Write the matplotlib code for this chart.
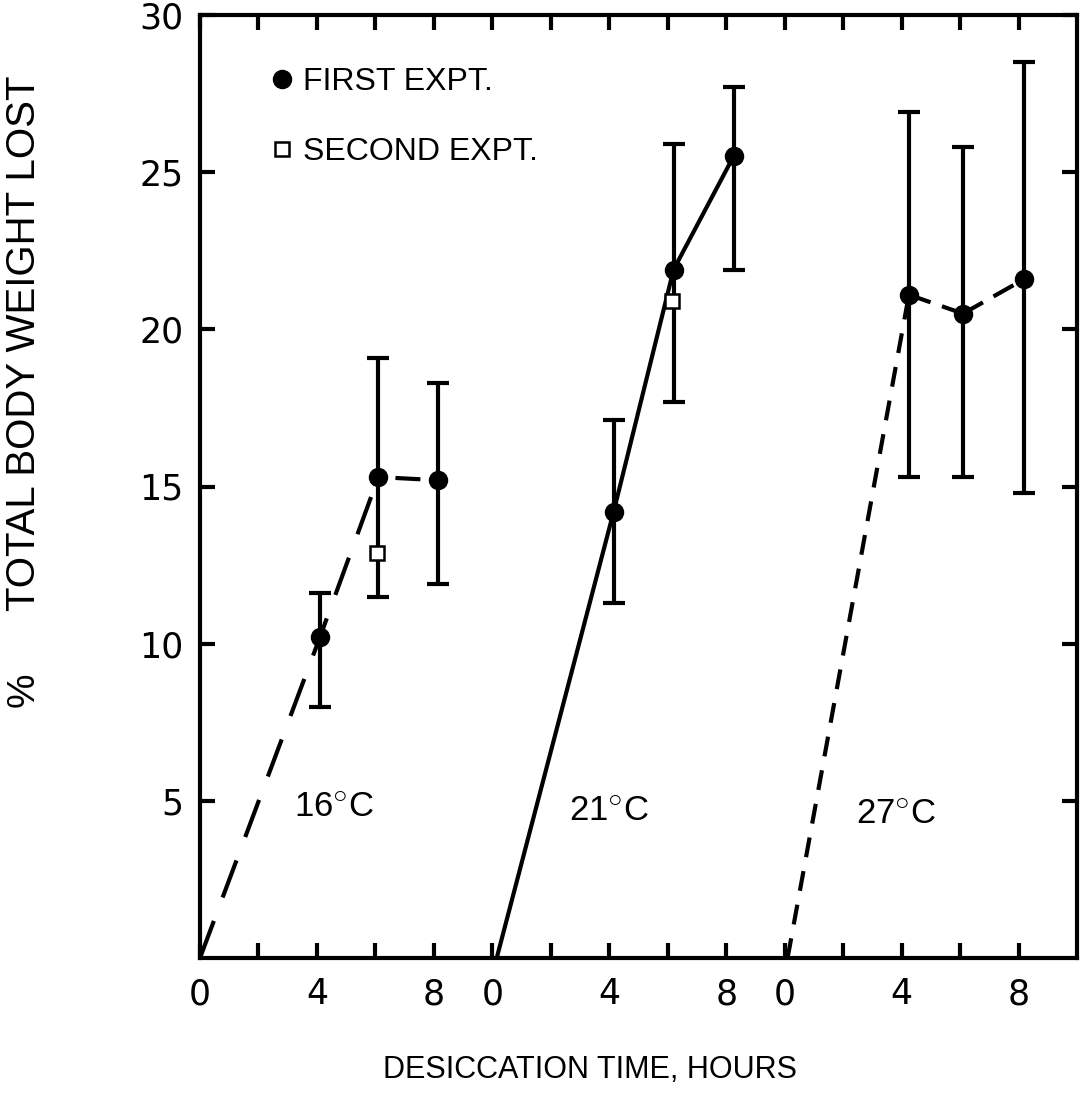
import matplotlib
matplotlib.use("Agg")
import matplotlib.pyplot as plt
from matplotlib.lines import Line2D
import numpy as np

# ---- data (hours of desiccation, % total body weight lost) ----
panel_offsets = [0, 10, 20]          # each temperature panel shares one axis
temps = [r"16$^{\bigcirc}$C", r"21$^{\bigcirc}$C", r"27$^{\bigcirc}$C"]

# 16 C
h16 = [4.1, 6.1, 8.15]
m16 = [10.2, 15.3, 15.2]
lo16 = [8.0, 11.5, 11.9]
hi16 = [11.6, 19.1, 18.3]
sec_h16 = [6.05]
sec_m16 = [12.9]
start16 = 0.0

# 21 C
h21 = [4.15, 6.2, 8.25]
m21 = [14.2, 21.9, 25.5]
lo21 = [11.3, 17.7, 21.9]
hi21 = [17.1, 25.9, 27.7]
sec_h21 = [6.15]
sec_m21 = [20.9]
start21 = 0.15

# 27 C
h27 = [4.25, 6.1, 8.2]
m27 = [21.1, 20.5, 21.6]
lo27 = [15.3, 15.3, 14.8]
hi27 = [26.9, 25.8, 28.5]
start27 = 0.1

xtick_pos = list(range(0, 30, 2))
xtick_lab = ["0", "", "4", "", "8", "0", "", "4", "", "8", "0", "", "4", "", "8"]
ytick_pos = [5, 10, 15, 20, 25, 30]
ytick_lab = ["5", "10", "15", "20", "25", "30"]

FONT = ["Liberation Sans Narrow", "Liberation Sans", "DejaVu Sans"]
plt.rcParams["mathtext.fontset"] = "custom"
plt.rcParams["mathtext.rm"] = "Liberation Sans"
plt.rcParams["mathtext.it"] = "Liberation Sans"

fig = plt.figure(figsize=(10.83, 11.07), dpi=100)
ax = fig.add_axes([200/1083, 1-958/1107, 877/1083, (958-15)/1107])

LW = 3.0
def shift(hs, off):
    return [h + off for h in hs]

def errs(m, lo, hi):
    return [np.subtract(m, lo), np.subtract(hi, m)]

# 16 C : long dashed line from origin
x16 = shift([start16] + h16, panel_offsets[0])
y16 = [0] + m16
ax.plot(x16[:3], y16[:3], color="black", lw=LW, ls=(0, (9.5, 6)), zorder=2)
ax.plot(x16[2:], y16[2:], color="black", lw=LW, ls=(0, (0.01, 4.1, 6, 30)), zorder=2)
ax.errorbar(shift(h16, panel_offsets[0]), m16, yerr=errs(m16, lo16, hi16), fmt="o",
            color="black", ms=13, elinewidth=LW, capsize=8, capthick=LW, zorder=3)
ax.plot(shift(sec_h16, panel_offsets[0]), sec_m16, "s", ms=10, mfc="white",
        mec="black", mew=1.8, zorder=4)

# 21 C : solid line
x21 = shift([start21] + h21, panel_offsets[1])
y21 = [0] + m21
ax.plot(x21, y21, color="black", lw=LW, zorder=2)
ax.errorbar(shift(h21, panel_offsets[1]), m21, yerr=errs(m21, lo21, hi21), fmt="o",
            color="black", ms=13, elinewidth=LW, capsize=8, capthick=LW, zorder=3)
ax.plot(shift(sec_h21, panel_offsets[1]), sec_m21, "s", ms=10, mfc="white",
        mec="black", mew=1.8, zorder=4)

# 27 C : short dashed rise, dashed connections
x27 = shift([start27] + h27, panel_offsets[2])
y27 = [0] + m27
ax.plot(x27[:2], y27[:2], color="black", lw=LW, ls=(0, (4.8, 3.4)), zorder=2)
for i in (1, 2):
    ax.plot(x27[i:i+2], y27[i:i+2], color="black", lw=LW, ls=(0, (5.5, 2.9)), zorder=2)
ax.errorbar(shift(h27, panel_offsets[2]), m27, yerr=errs(m27, lo27, hi27), fmt="o",
            color="black", ms=13, elinewidth=LW, capsize=8, capthick=LW, zorder=3)

# temperature labels
temp_pos = [(4.6, 4.8), (14.0, 4.65), (23.8, 4.55)]
for (tx, ty), t in zip(temp_pos, temps):
    ax.text(tx, ty, t, fontsize=25, family=FONT, ha="center", va="center")

ax.set_xlim(0, 30)
ax.set_ylim(0, 30)
ax.set_xticks(xtick_pos)
ax.set_xticklabels(xtick_lab)
ax.set_yticks(ytick_pos)
ax.set_yticklabels(ytick_lab)
ax.tick_params(axis="both", direction="in", length=11, width=3, labelsize=25,
               top=True, right=True, pad=12)
ax.tick_params(axis="x", pad=14)
for lab in ax.get_xticklabels() + ax.get_yticklabels():
    lab.set_family("DejaVu Sans")
for s in ax.spines.values():
    s.set_linewidth(3)

handles = [Line2D([], [], marker="o", ls="none", color="black", ms=13),
           Line2D([], [], marker="s", ls="none", mfc="white", mec="black", mew=1.8, ms=10)]
leg = ax.legend(handles, ["FIRST EXPT.", "SECOND EXPT."], loc="upper left",
                bbox_to_anchor=(0.05, 0.975), frameon=False, handlelength=0.6,
                handletextpad=0.35, labelspacing=1.25,
                prop={"family": FONT, "size": 23})

fig.text(590/1083, 1-1070/1107, "DESICCATION TIME, HOURS", fontsize=22,
         family=FONT, ha="center", va="center")
fig.text(24/1083, 1-343/1107, "TOTAL BODY WEIGHT LOST", fontsize=29,
         family=FONT, ha="center", va="center", rotation=90)
fig.text(24/1083, 1-690/1107, "%", fontsize=28,
         family=FONT, ha="center", va="center", rotation=90)

fig.savefig("out.png", dpi=100)
